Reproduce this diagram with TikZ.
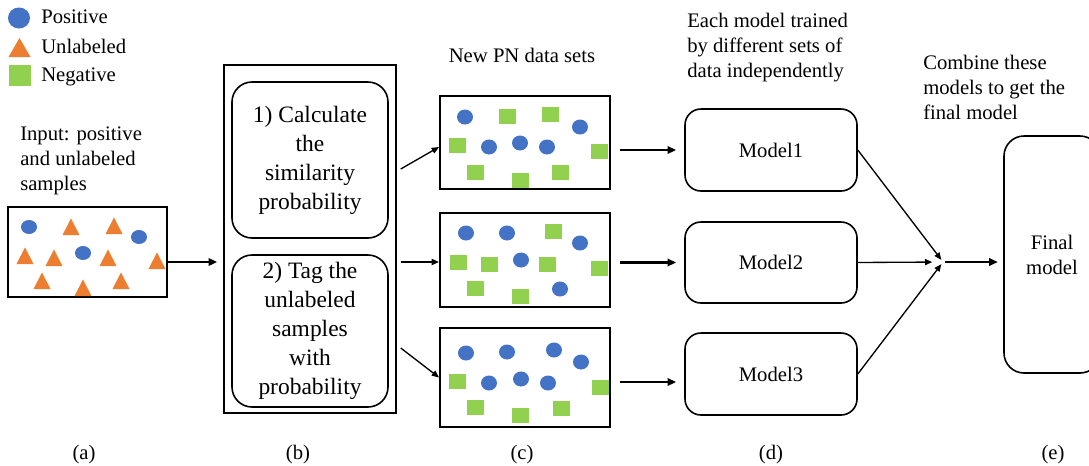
\documentclass[tikz,border=0pt]{standalone}
\usepackage{fontspec}
\setmainfont{Liberation Serif}
\usetikzlibrary{arrows.meta,calc}

\definecolor{posblue}{RGB}{68,114,196}
\definecolor{unlorange}{RGB}{237,125,49}
\definecolor{neggreen}{RGB}{146,208,80}

\tikzset{
  lbl/.style={inner sep=0.75pt, font=\fontsize{15.5}{18.75}\selectfont},
  steptxt/.style={align=center, font=\fontsize{17.6}{21.75}\selectfont},
  box/.style={draw, line width=1.4pt, inner sep=0pt},
  rbox/.style={draw, line width=1.2pt, rounded corners=12pt, inner sep=0pt},
  arr/.style={-{Triangle[length=6.5pt,width=5.5pt]}, line width=1.8pt},
  thinarr/.style={-{Triangle[length=5.5pt,width=4.5pt]}, line width=1pt},
  posdot/.style={fill=posblue},
  unltri/.style={fill=unlorange},
  negsq/.style={fill=neggreen}
}

\begin{document}
\begin{tikzpicture}[x=0.75pt,y=0.75pt,yscale=-1,xscale=1]
\useasboundingbox (0,0) rectangle (1089,465);

%Legend
\fill[posdot] (19,18) ellipse [x radius=11, y radius=10.5];
\fill[unltri] (8.5,57) -- (30.5,57) -- (19.5,38) -- cycle;
\fill[negsq] (9,65) rectangle (31,86);
% Text Node
\node[lbl, anchor=west] (leg1) at (40,17) {Positive};
\node[lbl, anchor=west] (leg2) at (40,46) {Unlabeled};
\node[lbl, anchor=west] (leg3) at (40,77) {Negative};

% Text Node
\node[lbl, anchor=west, align=left] (inp) at (19,161) {Input: positive\\and unlabeled\\samples};

%Shape: Rectangle (a)
\node[box, minimum width=119.25pt, minimum height=67.5pt] (a) at (87.5,252) {};
\foreach \x/\y in {29/227, 139/237, 83/253}
  \fill[posdot] (\x,\y) ellipse [x radius=8, y radius=7];
\foreach \x/\y in {71/227, 114/226, 25/256, 54/258, 108/258, 157/261, 42/281, 83/288, 121/281}
  \fill[unltri] (\x,\y) ++(-8.5,8) -- ++(17,0) -- ++(-8.5,-16.5) -- cycle;

%Shape: Rectangle (b)
\node[box, line width=1.1pt, minimum width=129pt, minimum height=261pt] (b) at (310,239) {};
\node[rbox, steptxt, minimum width=117pt, minimum height=117pt, rounded corners=15pt] (b1) at (310,160) {1) Calculate\\the\\similarity\\probability};
\node[rbox, steptxt, minimum width=117pt, minimum height=114pt, rounded corners=15pt] (b2) at (310,331) {2) Tag the\\unlabeled\\samples\\with\\probability};

% Text Node
\node[lbl] (newpn) at (522,55) {New PN data sets};

%Shape: Rectangle (c)
\node[box, minimum width=127.5pt, minimum height=69.75pt] (c1) at (525,142.5) {};
\node[box, minimum width=127.5pt, minimum height=70.5pt] (c2) at (525,260) {};
\node[box, minimum width=127.5pt, minimum height=74.25pt] (c3) at (525,377.5) {};
\foreach \x/\y in {465/117, 489/147, 520/143, 547/147, 580/127,
                   466/233, 507/233, 580/243, 521/260, 560/289,
                   466/353, 507/352, 554/350, 581/362, 489/383, 521/379, 548/383}
  \fill[posdot] (\x,\y) ellipse [x radius=8, y radius=7.5];
\foreach \x/\y in {507/116, 550/114, 457/145, 599/151, 475/172, 520/180, 560/172,
                   553/231, 458/262, 489/264, 547/264, 599/268, 475/288, 520/296,
                   457/381, 600/387, 475/407, 520/415, 561/408}
  \fill[negsq] (\x-8.5,\y-7.5) rectangle ++(17,15);

% Text Node
\node[lbl, anchor=west, align=left] (each) at (686,48) {Each model trained\\by different sets of\\data independently};

%Rounded Rect (d)
\node[rbox, lbl, minimum width=129pt, minimum height=61.5pt] (m1) at (771,150) {Model1};
\node[rbox, lbl, minimum width=129pt, minimum height=60.75pt] (m2) at (771,262.5) {Model2};
\node[rbox, lbl, minimum width=129pt, minimum height=61.5pt] (m3) at (771,374) {Model3};

% Text Node
\node[lbl, anchor=west, align=left] (comb) at (922,87) {Combine these\\models to get the\\final model};

%Rounded Rect (e)
\begin{scope}
\clip (0,0) rectangle (1089,465);
\node[rbox, lbl, align=center, minimum width=72pt, minimum height=177.75pt, rounded corners=15pt] (fin) at (1052,254.5) {Final\\model};
\end{scope}

%Connectors
\draw[arr, shorten >=4.5pt] ([shift={(0,10)}]a.east) -- ([shift={(0,10)}]a.east -| b.west);
\draw[thinarr] ([shift={(4,-70)}]b.east) -- ([shift={(0,4.5)}]c1.west);
\draw[thinarr, line width=1.3pt] ([shift={(4,23)}]b.east) -- ([shift={(0,2)}]c2.west);
\draw[thinarr] ([shift={(4,109)}]b.east) -- (c3.west);
\draw[arr, shorten <=6.5pt, shorten >=6pt] (c1.east |- m1.west) -- (m1.west);
\draw[arr, shorten <=7pt, shorten >=6pt] (c2.east |- m2.west) -- (m2.west);
\draw[arr, shorten <=7pt, shorten >=6pt] ([shift={(0,8)}]m3.west -| c3.east) -- ([shift={(0,8)}]m3.west);
\coordinate (j) at (943,262);
\draw[thinarr, shorten >=2pt] (m1.east) -- (j);
\draw[thinarr, shorten >=8pt] (m2.east) -- (j);
\draw[thinarr, shorten >=2pt] (m3.east) -- (j);
\draw[arr, line width=2.2pt, shorten <=1.5pt, shorten >=4pt] (j) -- (j -| fin.west);

% Text Node
\node[lbl] (la) at (84,455) {(a)};
\node[lbl] (lb) at (298,455) {(b)};
\node[lbl] (lc) at (522,455) {(c)};
\node[lbl] (ld) at (771,455) {(d)};
\node[lbl] (le) at (1053,455) {(e)};

\end{tikzpicture}
\end{document}
